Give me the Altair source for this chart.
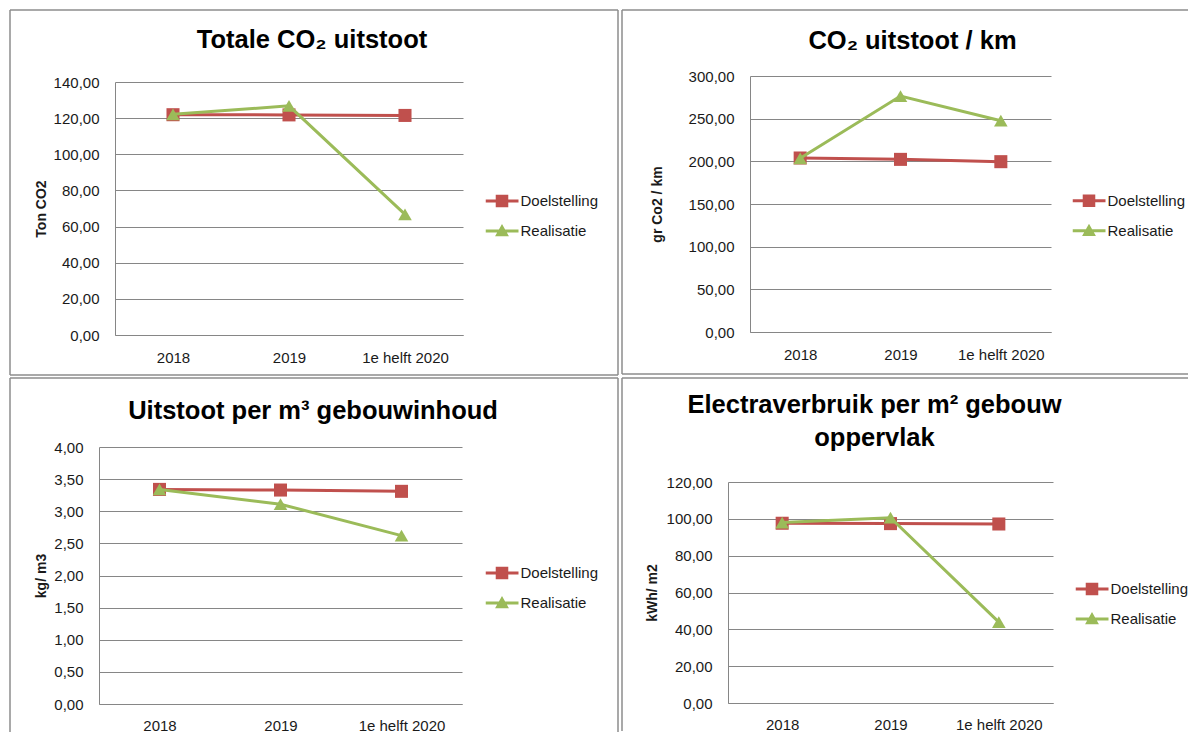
import altair as alt
import pandas as pd

categories = ["2018", "2019", "1e helft 2020"]
series_names = ["Doelstelling", "Realisatie"]

# Panel 1: Totale CO2 uitstoot
p1_title = "Totale CO₂ uitstoot"
p1_ytitle = "Ton CO2"
p1_doel = [121.9, 121.8, 121.5]
p1_real = [122.1, 126.8, 66.8]
p1_ticks = [0, 20, 40, 60, 80, 100, 120, 140]

# Panel 2: CO2 uitstoot / km
p2_title = "CO₂ uitstoot / km"
p2_ytitle = "gr Co2 / km"
p2_doel = [203.9, 202.3, 199.6]
p2_real = [203.5, 276.5, 247.6]
p2_ticks = [0, 50, 100, 150, 200, 250, 300]

# Panel 3: Uitstoot per m3 gebouwinhoud
p3_title = "Uitstoot per m³ gebouwinhoud"
p3_ytitle = "kg/ m3"
p3_doel = [3.34, 3.33, 3.31]
p3_real = [3.34, 3.11, 2.62]
p3_ticks = [0, 0.5, 1.0, 1.5, 2.0, 2.5, 3.0, 3.5, 4.0]

# Panel 4: Electraverbruik per m2 gebouw oppervlak
p4_title = ["Electraverbruik per m² gebouw", "oppervlak"]
p4_ytitle = "kWh/ m2"
p4_doel = [97.6, 97.4, 97.2]
p4_real = [98.0, 100.6, 43.9]
p4_ticks = [0, 20, 40, 60, 80, 100, 120]

RED = "#C0504D"
GREEN = "#9BBB59"
GRID = "#868686"
BORDER = "#8C8C8C"
TXT = "#1A1A1A"
FONT = "Liberation Sans"

LEG_SQUARE = "M-1,-0.09L1,-0.09L1,0.09L-1,0.09Z M-0.38,-0.38L0.38,-0.38L0.38,0.38L-0.38,0.38Z"
LEG_TRIANGLE = "M-1,-0.09L1,-0.09L1,0.09L-1,0.09Z M0,-0.42L0.42,0.32L-0.42,0.32Z"

IND_SCALES = dict(color="independent", shape="independent", x="independent", y="independent")
IND_LEG = dict(color="independent", shape="independent")


def seg(x1, y1, x2, y2):
    return alt.Chart(alt.Data(values=[{"s": 1}])).mark_rule(
        color=BORDER, strokeWidth=1.5
    ).encode(x=alt.value(x1), x2=alt.value(x2), y=alt.value(y1), y2=alt.value(y2))


def spacer():
    return alt.Chart(alt.Data(values=[{"s": 1}])).mark_point(opacity=0, size=1).encode(
        x=alt.value(0.5), y=alt.value(0.5)
    ).properties(width=1, height=1)


def panel(doel, real, ticks, ytitle, title, w, h, t_dx, t_off, ytx, lx, ly, xpad, segs):
    df = pd.DataFrame({
        "Jaar": categories * 2,
        "Reeks": [series_names[0]] * 3 + [series_names[1]] * 3,
        "Waarde": doel + real,
    })
    x = alt.X(
        "Jaar:N", sort=categories, scale=alt.Scale(domain=categories),
        axis=alt.Axis(title=None, labelAngle=0, ticks=False, tickSize=0, grid=False,
                      domainColor=GRID, domainWidth=1, labelPadding=xpad,
                      labelFont=FONT, labelFontSize=15, labelColor=TXT),
    )
    y = alt.Y(
        "Waarde:Q", scale=alt.Scale(domain=[0, ticks[-1]], nice=False, zero=True),
        axis=alt.Axis(values=ticks,
                      labelExpr="replace(format(datum.value, '.2f'), '.', ',')",
                      title=ytitle, titleX=ytx, titleY=h / 2, titleAngle=270,
                      titleAlign="center", titleBaseline="middle",
                      titleFont=FONT, titleFontSize=14, titleFontWeight="bold", titleColor=TXT,
                      ticks=False, tickSize=0, labelPadding=16,
                      domainColor=GRID, domainWidth=1,
                      grid=True, gridColor=GRID, gridWidth=1,
                      labelFont=FONT, labelFontSize=15, labelColor=TXT),
    )
    base = alt.Chart(df)
    d_only = base.transform_filter(alt.datum.Reeks == series_names[0])
    r_only = base.transform_filter(alt.datum.Reeks == series_names[1])
    red_line = d_only.mark_line(color=RED, strokeWidth=3).encode(x=x, y=y)
    red_pts = d_only.mark_point(shape="square", filled=True, size=170, color=RED, opacity=1).encode(x=x, y=y)
    green_line = r_only.mark_line(color=GREEN, strokeWidth=3).encode(x=x, y=y)
    green_pts = r_only.mark_point(shape="triangle-up", filled=True, size=185, color=GREEN, opacity=1).encode(x=x, y=y)

    leg = alt.Legend(title=None, orient="none", legendX=lx, legendY=ly,
                     labelFont=FONT, labelFontSize=15, labelColor=TXT, labelOffset=2,
                     symbolSize=1089, symbolStrokeWidth=0, symbolOpacity=1,
                     clipHeight=28, rowPadding=2, padding=0, labelLimit=0)
    legend_layer = base.mark_point(filled=True, opacity=0, size=1089).encode(
        x=x, y=y,
        color=alt.Color("Reeks:N", scale=alt.Scale(domain=series_names, range=[RED, GREEN]), legend=leg),
        shape=alt.Shape("Reeks:N", scale=alt.Scale(domain=series_names, range=[LEG_SQUARE, LEG_TRIANGLE]), legend=leg),
    )
    borders = [seg(*s) for s in segs]
    p = alt.layer(*borders, red_line, red_pts, green_line, green_pts, legend_layer).properties(
        width=w, height=h,
        title=alt.TitleParams(text=title, frame="bounds", anchor="middle", baseline="alphabetic",
                              offset=t_off, dx=t_dx, font=FONT, fontSize=25.5, fontWeight="bold",
                              color="#000000", lineHeight=33),
    )
    # wrappers so that each panel is placed by its own outer border (bounds), not by its plot origin
    inner = alt.vconcat(spacer(), p, spacing=0).resolve_scale(**IND_SCALES).resolve_legend(**IND_LEG)
    return alt.hconcat(spacer(), inner, spacing=0).resolve_scale(**IND_SCALES).resolve_legend(**IND_LEG)


c1 = panel(p1_doel, p1_real, p1_ticks, p1_ytitle, p1_title, 348, 253, -2, -64, -74, 370.5, 105, 15.5,
           [(-105, -72, 503, -72), (-105, 293, 503, 293), (-105, -72, -105, 293), (503, -72, 503, 293)])
c2 = panel(p2_doel, p2_real, p2_ticks, p2_ytitle, p2_title, 301, 256, 7.5, -65, -93, 322.5, 110.7, 15.5,
           [(-128, -66, 438, -66), (-128, 298, 438, 298), (-128, -66, -128, 298)])
c3 = panel(p3_doel, p3_real, p3_ticks, p3_ytitle, p3_title, 363, 257, -1, -67, -58, 386.5, 112, 14,
           [(-89, -69, 519, -69), (-89, -69, -89, 285), (519, -69, 519, 285)])
c4 = panel(p4_doel, p4_real, p4_ticks, p4_ytitle, p4_title, 325, 221, -30.5, -94, -76, 347.5, 93, 14,
           [(-106, -104, 460, -104), (-106, -104, -106, 249)])

row1 = alt.hconcat(c1, c2, spacing=1).resolve_scale(**IND_SCALES).resolve_legend(**IND_LEG)
row2 = alt.hconcat(c3, c4, spacing=1).resolve_scale(**IND_SCALES).resolve_legend(**IND_LEG)

chart = alt.vconcat(row1, row2, spacing=0).resolve_scale(**IND_SCALES).resolve_legend(**IND_LEG).properties(
    padding=0, background="#FFFFFF"
).configure_view(strokeWidth=0)

chart.save("out.html", embed_options={"renderer": "svg", "actions": False})
